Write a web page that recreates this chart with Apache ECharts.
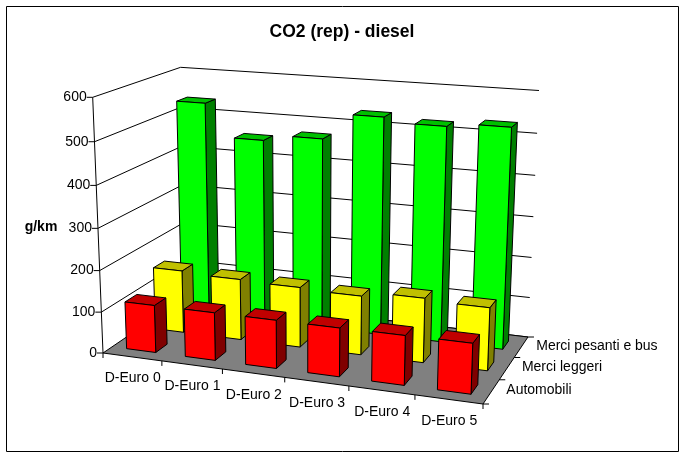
<!DOCTYPE html>
<html><head><meta charset="utf-8">
<style>html,body{margin:0;padding:0;background:#fff}#c{width:686px;height:457px}</style>
<script src="https://cdn.jsdelivr.net/npm/echarts@6/dist/echarts.min.js"></script>
</head><body><div id="c"></div>
<script>
const categories = ['D-Euro 0','D-Euro 1','D-Euro 2','D-Euro 3','D-Euro 4','D-Euro 5'];
const depthNames = ['Automobili','Merci leggeri','Merci pesanti e bus'];
const valueTicks = [0,100,200,300,400,500,600];
const automobili = [115,115,115,115,116,117];
const merciLeggeri = [155,150,147,143,155,150];
const merciPesanti = [535,455,470,533,522,531];
const FONT = 'Liberation Sans, Arial, sans-serif';

// Oblique perspective of the unit box (u along categories, w along depth, v along values)
const O=[103,353], U=[380,51], T=[-10.3,-255.7], X=[93.08,-63.37], a=0.9167, b=1.122, c=0.9513;
function proj(u,w,v){
  const d=1+u*(a-1)+w*(b-1)+v*(c-1);
  return [O[0]+(u*a*U[0]+w*X[0]+v*c*T[0])/d, O[1]+(u*a*U[1]+w*X[1]+v*c*T[1])/d];
}
const uOf=(api,s,x)=>(x-s.x)/s.width;
const vOf=(api,s,y)=>(s.y+s.height-y)/s.height;
const line=(p,q)=>({type:'line',shape:{x1:p[0],y1:p[1],x2:q[0],y2:q[1]},style:{stroke:'#000',lineWidth:1,fill:null}});
const poly=(pts,fill)=>({type:'polygon',shape:{points:pts},style:{fill,stroke:'#000',lineWidth:1}});
const text=(s,x,y,align)=>({type:'text',style:{text:s,x,y,align,verticalAlign:'middle',fill:'#000',font:'14px '+FONT}});

function wallItem(params,api){
  const s=params.coordSys, v=vOf(api,s,api.coord([0,api.value(1)])[1]);
  const A=proj(0,0,v),B=proj(0,1,v),C=proj(1,1,v);
  const kids=[text(String(api.value(1)),A[0]-6,A[1],'right'),line([A[0]-6,A[1]],A)];
  kids.push(line(B,C)); 
  if(v>0) kids.push(line(A,B));
  return {type:'group',children:kids};
}
function floorItem(params,api){
  const pts=[proj(0,0,0),proj(1,0,0),proj(1,1,0),proj(0,1,0)];
  const kids=[poly(pts,'#808080'),line(proj(0,0,0),proj(0,0,1))];
  for(let i=0;i<=categories.length;i++){
    const p=proj(i/categories.length,0,0);
    kids.push(line(p,[p[0],p[1]+5]));
  }
  for(let j=0;j<=depthNames.length;j++){
    const p=proj(1,j/depthNames.length,0);
    kids.push(line(p,[p[0]+6,p[1]]));
  }
  return {type:'group',children:kids};
}
function catLabel(params,api){
  const s=params.coordSys, u=uOf(api,s,api.coord([api.value(0),0])[0]);
  const p=proj(u,0,0);
  return text(categories[api.value(0)],p[0]+0.5,p[1]+21.5,'center');
}
function depthLabel(params,api){
  const j=api.value(0), p=proj(1,(j+0.5)/depthNames.length,0);
  return text(depthNames[j],p[0]+15,p[1]-1,'left');
}
function barRender(j,front,side,top){
  return function(params,api){
    const s=params.coordSys, i=api.value(0), pt=api.coord([i,api.value(1)]);
    const bw=api.size([1,0])[0];
    const u0=uOf(api,s,pt[0]-bw/4), u1=uOf(api,s,pt[0]+bw/4), v=vOf(api,s,pt[1]);
    const wc=1/depthNames.length, w0=(j+0.3)*wc, w1=(j+0.7)*wc;
    return {type:'group',children:[
      poly([proj(u1,w0,0),proj(u1,w1,0),proj(u1,w1,v),proj(u1,w0,v)],side),
      poly([proj(u0,w0,v),proj(u1,w0,v),proj(u1,w1,v),proj(u0,w1,v)],top),
      poly([proj(u0,w0,0),proj(u1,w0,0),proj(u1,w0,v),proj(u0,w0,v)],front)
    ]};
  };
}
const rows=a=>a.map((v,i)=>[i,v]);
const base={type:'custom',coordinateSystem:'cartesian2d',silent:true,clip:false,encode:{x:0,y:1},animation:false};
const chart=echarts.init(document.getElementById('c'),null,{renderer:'canvas'});
chart.setOption({
  animation:false,
  backgroundColor:'#fff',
  title:{text:'CO2 (rep) - diesel',left:337,top:18,textAlign:'center',textStyle:{fontFamily:FONT,fontSize:17.5,fontWeight:'bold',color:'#000',lineHeight:18}},
  grid:{left:100,top:50,width:400,height:300,containLabel:false},
  xAxis:{type:'category',data:categories,show:false},
  yAxis:{type:'value',min:0,max:600,interval:100,show:false},
  graphic:[
    {type:'rect',shape:{x:6.5,y:6.5,width:672,height:445},style:{fill:null,stroke:'#000',lineWidth:1},z:-1},
    {type:'text',style:{text:'g/km',x:41,y:227,align:'center',verticalAlign:'middle',fill:'#000',font:'bold 14px '+FONT}}
  ],
  series:[
    Object.assign({},base,{name:'walls',data:valueTicks.map(v=>[0,v]),renderItem:wallItem}),
    Object.assign({},base,{name:'floor',data:[[0,0]],renderItem:floorItem}),
    Object.assign({},base,{name:'cats',data:categories.map((c,i)=>[i,0]),renderItem:catLabel}),
    Object.assign({},base,{name:'depths',data:depthNames.map((c,i)=>[i,0]),renderItem:depthLabel}),
    Object.assign({},base,{name:depthNames[2],data:rows(merciPesanti),renderItem:barRender(2,'#00FF00','#008000','#00C000')}),
    Object.assign({},base,{name:depthNames[1],data:rows(merciLeggeri),renderItem:barRender(1,'#FFFF00','#808000','#C0C000')}),
    Object.assign({},base,{name:depthNames[0],data:rows(automobili),renderItem:barRender(0,'#FF0000','#800000','#C00000')})
  ]
});
</script></body></html>
